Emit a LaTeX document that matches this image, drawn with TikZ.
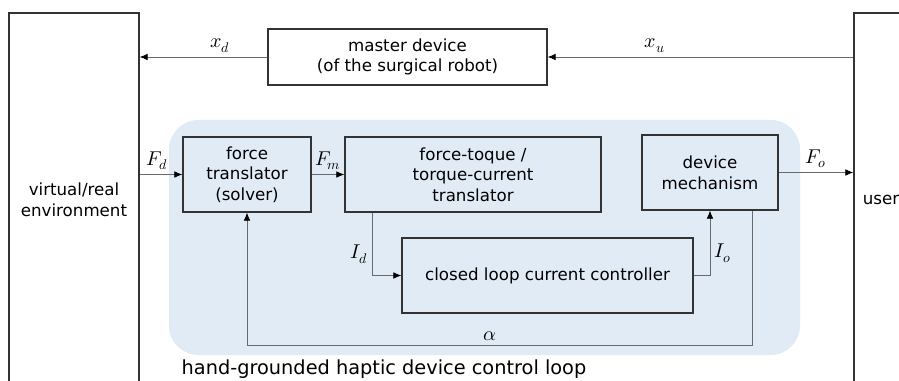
\documentclass[tikz,border=0pt]{standalone}
\usepackage{fontspec}
\usepackage{unicode-math}
\setmainfont{DejaVu Sans}
\setmathfont{Latin Modern Math}
\usetikzlibrary{arrows.meta}
\definecolor{loopblue}{RGB}{225,235,246}
\definecolor{wiregray}{RGB}{105,105,105}
\newcommand{\px}{0.75pt}
\tikzset{
	blk/.style={draw=black!80, line width=1pt, align=center, inner sep=0pt, font=\fontsize{12.5}{15.5}\selectfont},
	wire/.style={draw=wiregray, line width=0.6pt, -{Latex[length=6pt,width=5pt,color=black]}},
	sig/.style={font=\fontsize{15}{17}\selectfont, inner sep=3pt}
}

\begin{document}
\begin{tikzpicture}[x=\px, y=-\px]
\useasboundingbox (0,0) rectangle (899,381);

\fill[loopblue, rounded corners=22pt] (169,120) rectangle (800,355);

\node[blk, minimum width=130*\px, minimum height=374*\px] (env) at (74,200) {virtual/real\\environment};
\node[blk, minimum width=54*\px, minimum height=374*\px] (user) at (881,200) {user};
\node[blk, minimum width=279*\px, minimum height=56*\px] (master) at (407.5,57) {master device\\(of the surgical robot)};

\node[blk, minimum width=128*\px, minimum height=75*\px] (solver) at (247,174.5) {force\\translator\\(solver)};
\node[blk, minimum width=256*\px, minimum height=75*\px] (fttrans) at (473,174.5) {force-toque /\\torque-current\\translator};
\node[blk, minimum width=136*\px, minimum height=75*\px] (mech) at (710,172.5) {device\\mechanism};
\node[blk, minimum width=291*\px, minimum height=75*\px] (ctrl) at (547.5,275.5) {closed loop current controller};

\coordinate (lowrun) at (0,345);

\draw[wire] (master.west) -- node[sig, above, pos=0.37] {$x_d$} (master.west -| env.east);
\draw[wire] (user.west |- master) -- node[sig, above, pos=0.65] {$x_u$} (master.east);
\draw[wire] (env.east |- solver) -- node[sig, above, pos=0.4] {$F_d$} (solver.west);
\draw[wire] (solver.east) -- node[sig, above] {$F_m$} (fttrans.west);
\draw[wire] (mech.east) -- node[sig, above] {$F_o$} (mech -| user.west);
\draw[wire] ([xshift=28*\px]fttrans.south west) |- node[sig, left, pos=0.33] {$I_d$} (ctrl.west);
\draw[wire] (ctrl.east) -| node[sig, right, pos=0.67] {$I_o$} (mech.south);
\draw[wire] ([xshift=-26*\px]mech.south east) |- node[sig, above, pos=0.76] {$\alpha$} (solver.south |- lowrun) -- (solver.south);

\node[anchor=west, font=\fontsize{14.5}{17}\selectfont] (caption) at (177,369) {hand-grounded haptic device control loop};
\end{tikzpicture}
\end{document}
